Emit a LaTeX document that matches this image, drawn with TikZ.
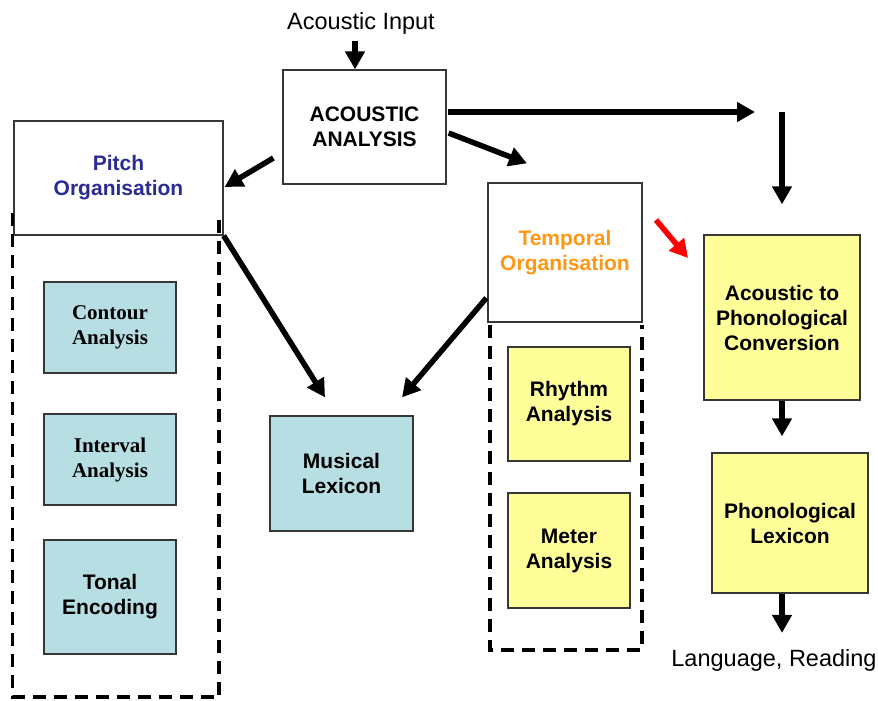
\documentclass[tikz,border=0pt]{standalone}
\usepackage{fontspec}
\setmainfont{Liberation Sans}
\newfontfamily\timesfont{Liberation Serif}
\usetikzlibrary{arrows.meta}
\definecolor{pitchblue}{RGB}{43,43,150}
\definecolor{temporange}{RGB}{255,150,20}
\definecolor{tealfill}{RGB}{183,222,226}
\definecolor{yellowfill}{RGB}{255,255,153}
\definecolor{edge}{RGB}{55,55,55}
\tikzset{
  bx/.style={draw=edge, line width=1.3pt, fill=white, align=center, inner sep=0pt,
    font=\bfseries\fontsize{21}{25}\selectfont},
  tealbox/.style={bx, fill=tealfill},
  yellowbox/.style={bx, fill=yellowfill},
  serifbox/.style={tealbox, font=\timesfont\bfseries\fontsize{21}{25}\selectfont},
  plain/.style={font=\fontsize{23.5}{28}\selectfont, inner sep=0pt},
  arr/.style={line width=5.5pt, -{Triangle[length=18pt,width=19pt]}},
  redarr/.style={arr, draw=red, -{Triangle[length=18pt,width=19pt,fill=red]}},
  groupline/.style={line width=3.8pt, dash pattern=on 13pt off 8pt}
}
\begin{document}
\begin{tikzpicture}[x=1pt, y=-1pt]
\useasboundingbox (0,0) rectangle (878,701);

% input and output labels
\node[plain] (input) at (361,23) {Acoustic Input};
\node[plain] (lang) at (774,660) {Language, Reading};

% central analysis stage
\node[bx, minimum width=163, minimum height=114] (aa) at (364.5,127) {ACOUSTIC\\ANALYSIS};

% pitch pathway
\node[bx, minimum width=209, minimum height=114, text=pitchblue] (pitch) at (118.5,178) {Pitch\\Organisation};
\node[serifbox, minimum width=132, minimum height=91] (contour) at (110,327.5) {Contour\\Analysis};
\node[serifbox, minimum width=132, minimum height=91] (interval) at (110,459.5) {Interval\\Analysis};
\node[tealbox, minimum width=132, minimum height=114] (tonal) at (110,597) {Tonal\\Encoding};

% musical lexicon
\node[tealbox, minimum width=143, minimum height=115] (ml) at (341.5,473.5) {Musical\\Lexicon};

% temporal pathway
\node[bx, minimum width=154, minimum height=139, text=temporange] (temporal) at (565,252.5) {Temporal\\Organisation};
\node[yellowbox, minimum width=122, minimum height=114] (rhythm) at (569,404) {Rhythm\\Analysis};
\node[yellowbox, minimum width=122, minimum height=115] (meter) at (569,550.5) {Meter\\Analysis};

% language pathway
\node[yellowbox, minimum width=156, minimum height=165] (atp) at (782,317.5) {Acoustic to\\Phonological\\Conversion};
\node[yellowbox, minimum width=156, minimum height=140] (pl) at (790,523) {Phonological\\Lexicon};

% dashed groupings below the organisation boxes
\draw[groupline] (12.5,213) -- (12.5,697) -- (219,697) -- (219,213);
\draw[groupline] (490,325) -- (490,650) -- (642,650) -- (642,325);

% connectors
\coordinate (bend) at (782,112);
\coordinate (redstart) at (656,220);
\coordinate (redend) at (688,258);

\draw[arr] ([shift={(-9.5,-28)}]aa.north) -- ([xshift=-9.5pt]aa.north);
\draw[arr] ([shift={(-9,31)}]aa.west) -- ([shift={(1,9)}]pitch.east);
\draw[arr] ([shift={(2,6)}]aa.east) -- ([shift={(-38,-19)}]temporal.north);
\draw[arr] ([shift={(1,-15)}]aa.east) -- ([xshift=-27pt]bend);
\draw[arr] (bend) -- ([shift={(0,-30)}]atp.north);
\draw[arr] (pitch.south east) -- ([shift={(-16.5,-18)}]ml.north);
\draw[arr] ([shift={(-1,45.5)}]temporal.west) -- ([shift={(60.5,-18)}]ml.north);
\draw[redarr] (redstart) -- (redend);
\draw[arr] (atp.south) -- ([shift={(-8,-16)}]pl.north);
\draw[arr] ([xshift=-8pt]pl.south) -- ([shift={(8,-16)}]lang.north);
\end{tikzpicture}
\end{document}
